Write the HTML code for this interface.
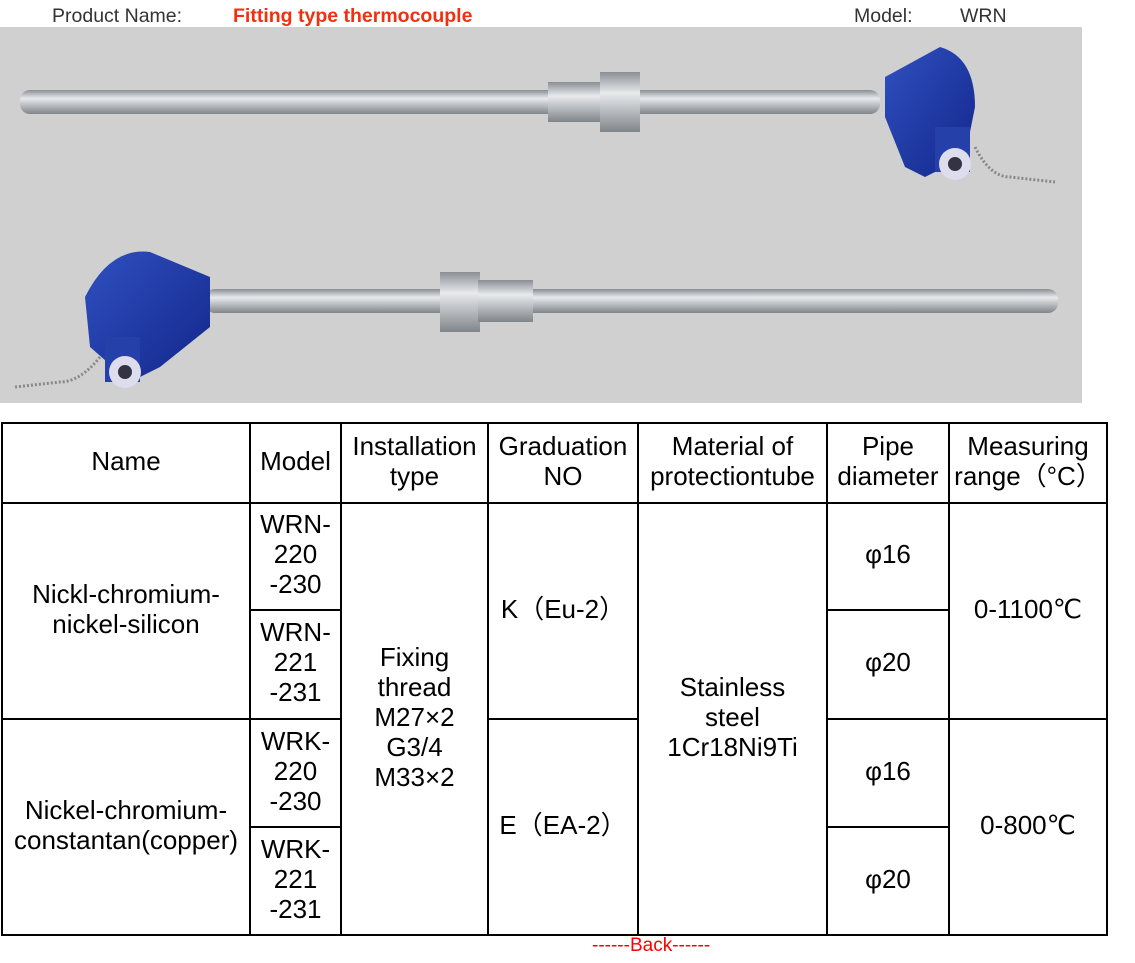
<!DOCTYPE html>
<html><head><style>
body{margin:0;width:1135px;height:963px;background:#fff;position:relative;font-family:"Liberation Sans",sans-serif;overflow:hidden}
.t{position:absolute;font-size:19.5px;color:#333;top:5px}
table{position:absolute;left:1px;top:422px;border-collapse:collapse;font-size:26px;color:#000;table-layout:fixed}
td{border:2px solid #000;text-align:center;vertical-align:middle;padding:0 0 5px 0;line-height:30px;white-space:nowrap}
</style></head><body>
<div class="t" style="left:52px">Product Name:</div>
<div class="t" style="left:233px;color:#f03010;font-weight:bold">Fitting type thermocouple</div>
<div class="t" style="left:854px">Model:</div>
<div class="t" style="left:960px">WRN</div>
<svg style="position:absolute;left:0;top:27px" width="1082" height="376">
<defs>
<linearGradient id="r" x1="0" y1="0" x2="0" y2="1"><stop offset="0" stop-color="#8a8f95"/><stop offset=".35" stop-color="#e8eaec"/><stop offset="1" stop-color="#80858a"/></linearGradient>
<linearGradient id="b" x1="0" y1="0" x2="1" y2="1"><stop offset="0" stop-color="#3050c0"/><stop offset="1" stop-color="#12268a"/></linearGradient>
</defs>
<rect width="1082" height="376" fill="#d0d0d0"/>
<rect x="20" y="63" width="860" height="24" rx="10" fill="url(#r)"/>
<rect x="548" y="55" width="58" height="40" fill="url(#r)"/>
<rect x="600" y="45" width="40" height="60" fill="url(#r)"/>
<path d="M885 50 L940 20 Q975 30 975 80 L965 130 L925 150 L905 140 L885 90 Z" fill="url(#b)"/>
<rect x="935" y="100" width="35" height="45" fill="#2540a8"/>
<circle cx="955" cy="137" r="16" fill="#dde"/><circle cx="955" cy="137" r="7" fill="#334"/>
<path d="M975 120 Q990 150 1010 150 L1055 155" stroke="#888" stroke-width="3" fill="none" stroke-dasharray="2 2"/>
<rect x="205" y="262" width="853" height="24" rx="10" fill="url(#r)"/>
<rect x="440" y="245" width="40" height="60" fill="url(#r)"/>
<rect x="478" y="253" width="55" height="42" fill="url(#r)"/>
<path d="M210 250 L150 225 Q110 220 85 270 L90 320 L130 355 L160 340 L210 300 Z" fill="url(#b)"/>
<rect x="105" y="310" width="35" height="45" fill="#2540a8"/>
<circle cx="125" cy="345" r="16" fill="#dde"/><circle cx="125" cy="345" r="7" fill="#334"/>
<path d="M100 330 Q80 355 60 355 L15 360" stroke="#888" stroke-width="3" fill="none" stroke-dasharray="2 2"/>
</svg>
<table>
<tr style="height:80px"><td style="width:246px">Name</td><td style="width:89px">Model</td><td style="width:145px">Installation<br>type</td><td style="width:148px">Graduation<br>NO</td><td style="width:187px">Material of<br>protectiontube</td><td style="width:120px">Pipe<br>diameter</td><td style="width:156px">Measuring<br>range（°C）</td></tr>
<tr style="height:107px"><td rowspan="2">Nickl-chromium-<br>nickel-silicon</td><td>WRN-<br>220<br>-230</td><td rowspan="4">Fixing<br>thread<br>M27×2<br>G3/4<br>M33×2</td><td rowspan="2">K（Eu-2）</td><td rowspan="4">Stainless<br>steel<br>1Cr18Ni9Ti</td><td>φ16</td><td rowspan="2">0-1100℃</td></tr>
<tr style="height:109px"><td>WRN-<br>221<br>-231</td><td>φ20</td></tr>
<tr style="height:108px"><td rowspan="2">Nickel-chromium-<br>constantan(copper)</td><td>WRK-<br>220<br>-230</td><td rowspan="2">E（EA-2）</td><td>φ16</td><td rowspan="2">0-800℃</td></tr>
<tr style="height:108px"><td>WRK-<br>221<br>-231</td><td>φ20</td></tr>
</table>
<div style="position:absolute;left:592px;top:935px;color:#f00;font-size:19px">------Back------</div>
</body></html>
